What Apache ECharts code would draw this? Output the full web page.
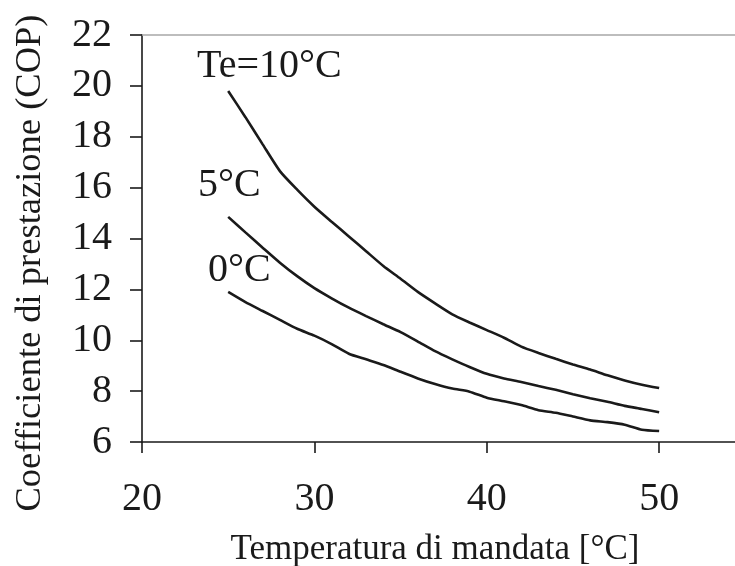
<!DOCTYPE html>
<html>
<head>
<meta charset="utf-8">
<script src="https://cdn.jsdelivr.net/npm/echarts@6/dist/echarts.min.js"></script>
<style>
  html, body { margin: 0; padding: 0; background: #fff; }
  #chart { width: 735px; height: 566px; }
</style>
</head>
<body>
<div id="chart"></div>
<script>
// Supply temperature [°C]
const temps = [25, 26, 27, 28, 29, 30, 31, 32, 33, 34, 35, 36, 37, 38, 39, 40, 41, 42, 43, 44, 45, 46, 47, 48, 49, 50];

// COP at evaporator temperature Te = 10 °C
const copTe10 = [19.8, 18.77, 17.7, 16.65, 15.92, 15.25, 14.66, 14.08, 13.5, 12.92, 12.42, 11.9, 11.45, 11.02, 10.7, 10.4, 10.1, 9.75, 9.5, 9.27, 9.05, 8.85, 8.62, 8.42, 8.25, 8.12];
// COP at Te = 5 °C
const copTe5 = [14.85, 14.24, 13.64, 13.05, 12.52, 12.05, 11.65, 11.28, 10.95, 10.63, 10.32, 9.95, 9.57, 9.25, 8.95, 8.68, 8.5, 8.36, 8.2, 8.05, 7.88, 7.72, 7.58, 7.42, 7.3, 7.17];
// COP at Te = 0 °C
const copTe0 = [11.9, 11.5, 11.15, 10.8, 10.45, 10.18, 9.85, 9.47, 9.25, 9.03, 8.76, 8.5, 8.28, 8.1, 7.98, 7.74, 7.6, 7.45, 7.25, 7.15, 7.0, 6.85, 6.78, 6.68, 6.48, 6.43];

const seriesNames = ['Te=10°C', '5°C', '0°C'];
const xTicks = [20, 30, 40, 50];
const yTicks = [6, 8, 10, 12, 14, 16, 18, 20, 22];

const FONT = '"Liberation Serif", "Times New Roman", serif';
const INK = '#1a1a1a';

function pairs(ys) {
  return temps.map((t, i) => [t, ys[i]]);
}

const chart = echarts.init(document.getElementById('chart'), null, { renderer: 'canvas' });

const lineStyle = { color: INK, width: 2.6 };

chart.setOption({
  animation: false,
  backgroundColor: '#fff',
  grid: { left: 142, top: 35, right: 0, bottom: 124, containLabel: false },
  xAxis: [
    {
      type: 'value',
      min: 20,
      max: 54.4,
      interval: 10,
      axisLine: { onZero: false, lineStyle: { color: INK, width: 1.6 } },
      axisTick: { show: true, inside: false, length: 11, customValues: xTicks, lineStyle: { color: INK, width: 1.6 } },
      axisLabel: {
        margin: 37,
        customValues: xTicks,
        fontFamily: FONT, fontSize: 40, color: INK
      },
      splitLine: { show: false }
    },
    {
      type: 'value',
      position: 'top',
      min: 20,
      max: 54.4,
      axisLine: { show: true, onZero: false, lineStyle: { color: '#a8a8a8', width: 1.6 } },
      axisTick: { show: false },
      axisLabel: { show: false },
      splitLine: { show: false }
    }
  ],
  yAxis: {
    type: 'value',
    min: 6,
    max: 22,
    interval: 2,
    axisLine: { show: true, onZero: false, lineStyle: { color: INK, width: 1.6 } },
    axisTick: { show: true, inside: false, length: 12, customValues: yTicks, lineStyle: { color: INK, width: 1.6 } },
    axisLabel: {
      margin: 30,
      customValues: yTicks,
      fontFamily: FONT, fontSize: 40, color: INK
    },
    splitLine: { show: false }
  },
  series: [
    { name: seriesNames[0], type: 'line', data: pairs(copTe10), showSymbol: false, smooth: 0.2, lineStyle },
    { name: seriesNames[1], type: 'line', data: pairs(copTe5), showSymbol: false, smooth: 0.2, lineStyle },
    { name: seriesNames[2], type: 'line', data: pairs(copTe0), showSymbol: false, smooth: 0.2, lineStyle }
  ],
  graphic: [
    {
      type: 'text', x: 197, y: 66.5,
      style: { text: seriesNames[0], font: '40px ' + FONT, fill: INK, verticalAlign: 'middle' }
    },
    {
      type: 'text', x: 198, y: 185.5,
      style: { text: seriesNames[1], font: '40px ' + FONT, fill: INK, verticalAlign: 'middle' }
    },
    {
      type: 'text', x: 208, y: 270.5,
      style: { text: seriesNames[2], font: '40px ' + FONT, fill: INK, verticalAlign: 'middle' }
    },
    {
      type: 'text',
      x: 30, y: 263,
      rotation: Math.PI / 2,
      style: {
        text: 'Coefficiente di prestazione (COP)',
        font: '36.5px ' + FONT, fill: INK,
        align: 'center', verticalAlign: 'middle'
      }
    },
    {
      type: 'text',
      x: 435, y: 550,
      style: {
        text: 'Temperatura di mandata [°C]',
        font: '35px ' + FONT, fill: INK,
        align: 'center', verticalAlign: 'middle'
      }
    }
  ]
});
</script>
</body>
</html>
